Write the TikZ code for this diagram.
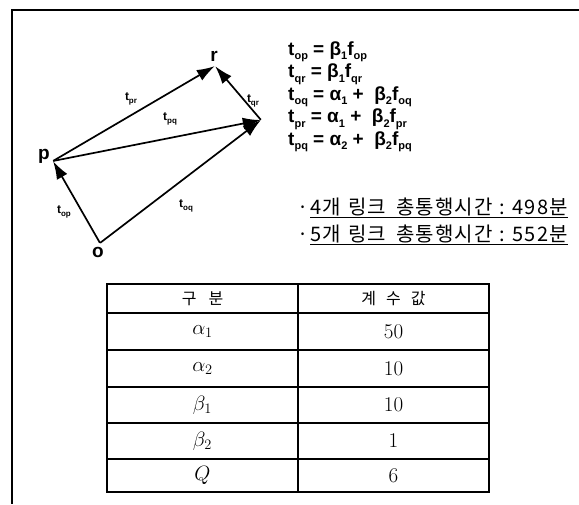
\documentclass[tikz,border=0pt]{standalone}
\usepackage{fontspec}
\newfontfamily\eqf{Liberation Sans}
\newfontfamily\kr{Noto Sans CJK KR}[LetterSpace=6]
\newfontfamily\krh{Noto Sans CJK KR}
\usetikzlibrary{arrows.meta}
\newcommand{\lsub}[1]{\raisebox{-0.45ex}{\fontsize{11}{11}\selectfont #1}}
\newcommand{\tsub}[1]{\raisebox{-0.45ex}{\fontsize{8}{8}\selectfont #1}}
\begin{document}
\begin{tikzpicture}[x=1pt,y=-1pt,
  link/.style={line width=1.7pt,-{Latex[length=18pt,width=12pt]}},
  vtx/.style={inner sep=0pt,minimum size=0pt},
  vlab/.style={font=\eqf\bfseries\fontsize{19}{19}\selectfont,inner sep=0pt},
  elab/.style={font=\eqf\bfseries\fontsize{12}{12}\selectfont,inner sep=0pt},
  eqn/.style={font=\eqf\bfseries\fontsize{19}{19}\selectfont,anchor=base west,inner sep=0pt},
  krl/.style={font=\kr\fontsize{20}{20}\selectfont,anchor=west,inner sep=0pt},
  cell/.style={inner sep=0pt,font=\fontsize{21}{21}\selectfont},
  kcell/.style={inner sep=0pt,font=\krh\fontsize{16}{16}\selectfont},
  rule/.style={line width=1.2pt}
]
\useasboundingbox (0,0) rectangle (579,504);
\draw[line width=1.3pt] (579,10) -- (12,10) -- (12,504);

% vertices
\node[vtx] (o) at (100,243) {};
\node[vtx] (p) at (53,161) {};
\node[vtx] (q) at (261,120) {};
\node[vtx] (r) at (215,66) {};
\node[vlab] (lo) at (98,252) {o};
\node[vlab] (lp) at (44,156) {p};
\node[vlab] (lr) at (214,56) {r};

\draw[link] (o) -- (p);
\draw[link] (o) -- (q);
\draw[link] (p) -- (q);
\draw[link] (p) -- (r);
\draw[link] (q) -- (r);

\node[elab] (tpr) at (131,99) {t\tsub{pr}};
\node[elab] (tqr) at (253,101) {t\tsub{qr}};
\node[elab] (tpq) at (170,119) {t\tsub{pq}};
\node[elab] (top) at (64,212) {t\tsub{op}};
\node[elab] (toq) at (186,206) {t\tsub{oq}};

% equations
\node[eqn] (e1) at (288,55) {t\lsub{op} = β\lsub{1}f\lsub{op}};
\node[eqn] (e2) at (288,77.5) {t\lsub{qr} = β\lsub{1}f\lsub{qr}};
\node[eqn] (e3) at (288,100) {t\lsub{oq} = α\lsub{1} +\ \ β\lsub{2}f\lsub{oq}};
\node[eqn] (e4) at (288,122.5) {t\lsub{pr} = α\lsub{1} +\ \ β\lsub{2}f\lsub{pr}};
\node[eqn] (e5) at (288,145) {t\lsub{pq} = α\lsub{2} +\ \ β\lsub{2}f\lsub{pq}};

% summary lines
\node[krl] (s1) at (297,208) {·\hspace{2pt}\underline{4개\hspace{7pt}링크\hspace{10pt}총통행시간\hspace{7pt}:\hspace{7pt}498분}};
\node[krl] (s2) at (297,235) {·\hspace{2pt}\underline{5개\hspace{7pt}링크\hspace{10pt}총통행시간\hspace{7pt}:\hspace{7pt}552분}};

% table
\draw[rule] (107,284) rectangle (489,492);
\draw[rule] (298,284) -- (298,492);
\foreach \yy in {313,350,387,423,459} \draw[rule] (107,\yy) -- (489,\yy);
\node[kcell] (h1) at (202.5,298.5) {구\hspace{12pt}분};
\node[kcell] (h2) at (393.5,298.5) {계\hspace{10pt}수\hspace{10pt}값};
\node[cell] (a1) at (202.5,331.5) {$\alpha_1$};
\node[cell] (v1) at (393.5,331.5) {50};
\node[cell] (a2) at (202.5,368.5) {$\alpha_2$};
\node[cell] (v2) at (393.5,368.5) {10};
\node[cell] (b1) at (202.5,405) {$\beta_1$};
\node[cell] (v3) at (393.5,405) {10};
\node[cell] (b2) at (202.5,441) {$\beta_2$};
\node[cell] (v4) at (393.5,441) {1};
\node[cell] (qq) at (202.5,475.5) {$Q$};
\node[cell] (v5) at (393.5,475.5) {6};
\end{tikzpicture}
\end{document}
